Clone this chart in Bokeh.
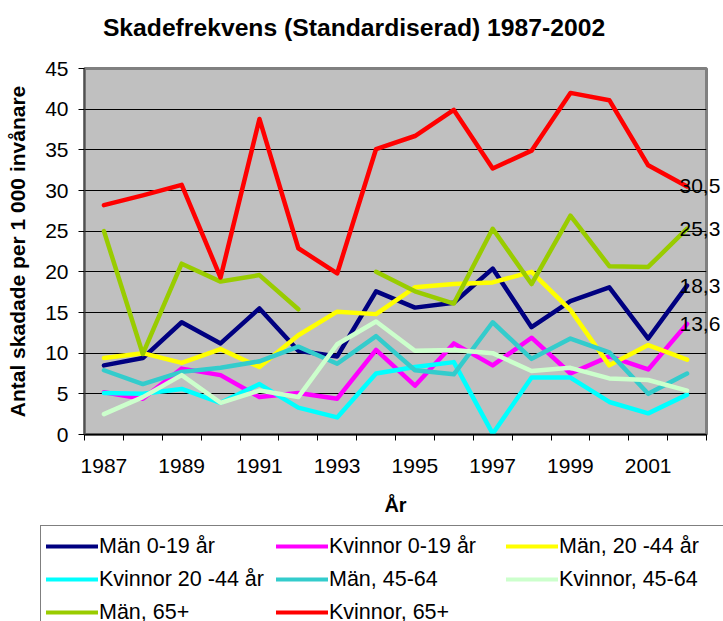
from bokeh.plotting import figure
from bokeh.layouts import column
from bokeh.models import (FixedTicker, Legend, LegendItem, Label, LinearAxis, Range1d)
from bokeh.embed import file_html
from bokeh.resources import INLINE

nan = float("nan")

years = list(range(1987, 2003))
year_tick_labels = ["1987", "1989", "1991", "1993", "1995", "1997", "1999", "2001"]
y_ticks = [0, 5, 10, 15, 20, 25, 30, 35, 40, 45]

series_names = ["Män 0-19 år", "Kvinnor 0-19 år", "Män, 20 -44 år", "Kvinnor 20 -44 år",
                "Män, 45-64", "Kvinnor, 45-64", "Män, 65+", "Kvinnor, 65+"]
series_colors = ["#000080", "#FF00FF", "#FFFF00", "#00FFFF",
                 "#33CCCC", "#CCFFCC", "#99CC00", "#FF0000"]

man_0_19 = [8.5, 9.4, 13.8, 11.2, 15.5, 10.3, 9.6, 17.6, 15.6, 16.2, 20.4, 13.2, 16.4, 18.1, 11.8, 18.3]
kvinnor_0_19 = [5.2, 4.4, 8.1, 7.3, 4.6, 5.1, 4.4, 10.4, 6.0, 11.2, 8.5, 11.9, 7.5, 9.6, 8.0, 13.6]
man_20_44 = [9.4, 10.0, 8.8, 10.5, 8.3, 12.2, 15.1, 14.8, 18.1, 18.5, 18.7, 20.0, 15.3, 8.5, 11.0, 9.2]
kvinnor_20_44 = [5.1, 5.0, 5.6, 3.9, 6.2, 3.3, 2.1, 7.5, 8.3, 8.9, 0.1, 7.0, 7.0, 4.0, 2.6, 4.9]
man_45_64 = [7.9, 6.2, 7.7, 8.2, 9.0, 10.8, 8.7, 12.1, 7.9, 7.4, 13.8, 9.3, 11.8, 10.1, 5.0, 7.5]
kvinnor_45_64 = [2.5, 4.6, 7.3, 3.9, 5.4, 4.6, 11.1, 13.9, 10.3, 10.4, 10.0, 7.8, 8.2, 6.9, 6.7, 5.4]
man_65 = [25.0, 9.9, 21.0, 18.8, 19.6, 15.4, nan, 20.0, 17.6, 16.1, 25.3, 18.5, 26.9, 20.7, 20.6, 25.3]
kvinnor_65 = [28.2, 29.4, 30.7, 19.3, 38.8, 22.9, 19.8, 35.1, 36.7, 39.9, 32.7, 34.9, 42.0, 41.1, 33.1, 30.5]

all_series = [man_0_19, kvinnor_0_19, man_20_44, kvinnor_20_44,
              man_45_64, kvinnor_45_64, man_65, kvinnor_65]
labelled_series = [kvinnor_65, man_65, man_0_19, kvinnor_0_19]

FONT = "Liberation Sans"
W = 723

# ---------------- title strip ----------------
pt = figure(width=W, height=50, min_border_left=84, min_border_right=16,
            min_border_top=0, min_border_bottom=0, frame_align=False,
            x_axis_location=None, y_axis_location=None,
            x_range=Range1d(0, 1), y_range=Range1d(0, 1),
            output_backend="svg", toolbar_location=None, outline_line_color=None)
pt.grid.grid_line_color = None
pt.add_layout(Label(x=269.5, y=23.5, x_units="screen", y_units="screen",
                    text="Skadefrekvens (Standardiserad) 1987-2002",
                    text_align="center", text_baseline="alphabetic",
                    text_font=FONT, text_font_size="24.7px", text_font_style="bold",
                    text_color="black"))

# ---------------- main chart ----------------
p = figure(width=W, height=474, frame_align=False,
           min_border_left=84, min_border_right=16,
           min_border_top=18, min_border_bottom=90,
           x_range=Range1d(years[0] - 0.5, years[-1] + 0.5),
           y_range=Range1d(0, 45),
           output_backend="svg", toolbar_location=None,
           background_fill_color="#C0C0C0", border_fill_color="white")

p.outline_line_color = "#808080"
p.outline_line_width = 3

xa = p.xaxis[0]
label_years = [int(s) for s in year_tick_labels]
xa.ticker = FixedTicker(ticks=label_years,
                        minor_ticks=[y - 0.5 for y in years] + [years[-1] + 0.5])
xa.major_label_overrides = {y: s for y, s in zip(label_years, year_tick_labels)}
xa.major_tick_line_color = None
xa.major_tick_out = 6
xa.major_tick_in = 0
xa.minor_tick_out = 6
xa.minor_tick_in = 0
xa.minor_tick_line_color = "black"
xa.major_label_standoff = 18
xa.major_label_text_font = FONT
xa.major_label_text_font_size = "21px"
xa.major_label_text_color = "black"
xa.axis_label = "År"
xa.axis_label_text_font = FONT
xa.axis_label_text_font_size = "20px"
xa.axis_label_text_font_style = "bold"
xa.axis_label_text_color = "black"
xa.axis_label_standoff = 18
xa.axis_line_color = "black"
xa.axis_line_width = 1.5

ya = p.yaxis[0]
ya.ticker = FixedTicker(ticks=y_ticks)
ya.major_tick_out = 6
ya.major_tick_in = 0
ya.minor_tick_line_color = None
ya.major_label_standoff = 10
ya.major_label_text_font = FONT
ya.major_label_text_font_size = "21px"
ya.major_label_text_color = "black"
ya.axis_label = "Antal skadade per 1 000 invånare"
ya.axis_label_text_font = FONT
ya.axis_label_text_font_size = "21px"
ya.axis_label_text_font_style = "bold"
ya.axis_label_text_color = "black"
ya.axis_label_standoff = 13
ya.axis_line_color = "#505050"
ya.axis_line_width = 1.5

p.xgrid.grid_line_color = None
p.ygrid.ticker = FixedTicker(ticks=y_ticks)
p.ygrid.grid_line_color = "black"
p.ygrid.grid_line_width = 1

for vals, c in zip(all_series, series_colors):
    p.line(years, vals, line_color=c, line_width=4.5, line_cap="round", line_join="round")

# end-of-line value labels, drawn by a right-hand axis at the last values
last_vals = [s[-1] for s in labelled_series]
ra = LinearAxis(ticker=FixedTicker(ticks=last_vals),
                major_label_overrides={v: ("%.1f" % v).replace(".", ",") for v in last_vals},
                axis_line_color=None, major_tick_line_color=None, minor_tick_line_color=None,
                major_tick_out=0, major_tick_in=0, major_label_standoff=-27,
                major_label_text_font=FONT, major_label_text_font_size="21px",
                major_label_text_color="black")
p.add_layout(ra, "right")

# ---------------- legend strip ----------------
pl = figure(width=W, height=97, min_border_left=40, min_border_top=1,
            min_border_right=0, min_border_bottom=0, frame_align=False,
            x_axis_location=None, y_axis_location=None,
            x_range=Range1d(0, 1), y_range=Range1d(0, 1),
            output_backend="svg", toolbar_location=None, outline_line_color=None)
pl.grid.grid_line_color = None
leg_renderers = [pl.line(years, vals, line_color=c, line_width=4, line_cap="round")
                 for vals, c in zip(all_series, series_colors)]
legend = Legend(items=[LegendItem(label=n, renderers=[r]) for n, r in zip(series_names, leg_renderers)],
                location="top_left", orientation="horizontal", ncols=3,
                glyph_width=52, glyph_height=30, label_height=30, label_width=174,
                label_standoff=1, spacing=3, padding=5, margin=0,
                label_text_font=FONT, label_text_font_size="21.5px", label_text_color="black",
                border_line_color="black", border_line_width=1,
                background_fill_color="white", background_fill_alpha=1)
pl.add_layout(legend, "center")

layout = column(pt, p, pl, spacing=0)
open("out.html", "w").write(file_html(layout, INLINE))
